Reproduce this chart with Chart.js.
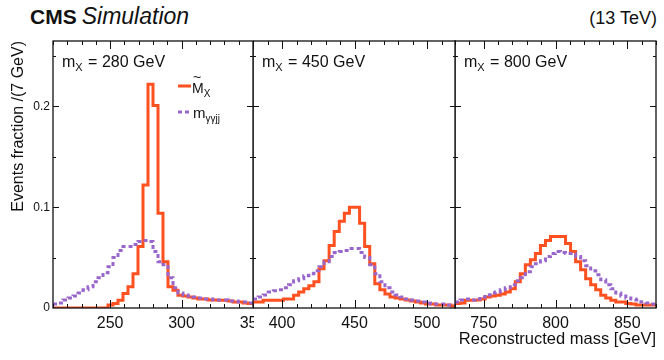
<!DOCTYPE html>
<html>
<head>
<meta charset="utf-8">
<script src="https://cdn.jsdelivr.net/npm/chart.js@4.4.1/dist/chart.umd.min.js"></script>
<style>
  html, body { margin: 0; padding: 0; background: #fff; }
  #wrap { position: relative; width: 664px; height: 360px; overflow: hidden;
          font-family: "Liberation Sans", Arial, sans-serif; color: #111; }
  .pane { position: absolute; top: 0; }
  .hdr { position: absolute; top: 8px; font-size: 18px; line-height: 20px; white-space: nowrap; }
</style>
</head>
<body>
<div id="wrap">
  <div class="hdr" style="left:30px;top:6px"><b style="font-size:21px">CMS</b> <i style="font-size:23px">Simulation</i></div>
  <div class="hdr" style="right:7px">(13 TeV)</div>
  <canvas class="pane" id="c1" width="254" height="360" style="left:0"></canvas>
  <canvas class="pane" id="c2" width="203" height="360" style="left:253px"></canvas>
  <canvas class="pane" id="c3" width="224" height="360" style="left:440px"></canvas>
</div>
<script>
// 3.5 GeV bins, 40 per panel
const binWidth = 3.5;

const massPoints = ['280', '450', '800'];
const binLow = [210, 380, 730];
const xTicks = [[250, 300, 350], [400, 450, 500], [750, 800, 850]];
const yTicks = [0, 0.1, 0.2];

// M~_X (orange)
const mtilde280 = [0, 0, 0, 0, 0, 0, 0, 0, 0, 0,
  0, 0.003, 0.0044, 0.0077, 0.0143, 0.021, 0.034, 0.061, 0.122, 0.222,
  0.201, 0.094, 0.046, 0.021, 0.0176, 0.0126, 0.012, 0.011, 0.010, 0.009,
  0.009, 0.008, 0.008, 0.0077, 0.0077, 0.007, 0.006, 0.006, 0.005, 0.0045];
const mtilde450 = [0.006, 0.006, 0.0077, 0.0077, 0.0077, 0.0077, 0.009, 0.009, 0.0126, 0.016,
  0.019, 0.022, 0.026, 0.039, 0.047, 0.062, 0.076, 0.086, 0.094, 0.100,
  0.100, 0.084, 0.061, 0.044, 0.024, 0.018, 0.014, 0.011, 0.010, 0.009,
  0.008, 0.007, 0.006, 0.005, 0.004, 0.004, 0.003, 0.003, 0.003, 0.002];
const mtilde800 = [0.0044, 0.005, 0.0077, 0.0077, 0.008, 0.009, 0.011, 0.012, 0.0126, 0.014,
  0.016, 0.019, 0.026, 0.034, 0.043, 0.048, 0.054, 0.062, 0.067, 0.071,
  0.071, 0.071, 0.064, 0.056, 0.046, 0.038, 0.029, 0.023, 0.018, 0.0126,
  0.010, 0.0077, 0.006, 0.006, 0.0044, 0.004, 0.003, 0.003, 0.003, 0.003];

// m_γγjj (purple)
const mggjj280 = [0.004, 0.005, 0.008, 0.010, 0.012, 0.015, 0.018, 0.021, 0.026, 0.030,
  0.035, 0.041, 0.050, 0.057, 0.061, 0.061, 0.063, 0.066, 0.067, 0.066,
  0.056, 0.046, 0.043, 0.030, 0.020, 0.015, 0.013, 0.012, 0.011, 0.010,
  0.009, 0.009, 0.008, 0.008, 0.008, 0.007, 0.007, 0.006, 0.006, 0.005];
const mggjj450 = [0.009, 0.011, 0.013, 0.016, 0.017, 0.018, 0.020, 0.023, 0.027, 0.029,
  0.032, 0.034, 0.037, 0.041, 0.046, 0.051, 0.055, 0.056, 0.057, 0.059,
  0.059, 0.055, 0.050, 0.043, 0.034, 0.026, 0.020, 0.016, 0.013, 0.011,
  0.009, 0.008, 0.007, 0.006, 0.005, 0.004, 0.004, 0.004, 0.003, 0.003];
const mggjj800 = [0.006, 0.008, 0.009, 0.008, 0.009, 0.011, 0.013, 0.015, 0.016, 0.018,
  0.020, 0.023, 0.027, 0.030, 0.036, 0.041, 0.044, 0.047, 0.051, 0.054,
  0.056, 0.055, 0.054, 0.054, 0.051, 0.047, 0.042, 0.037, 0.033, 0.028,
  0.023, 0.019, 0.015, 0.012, 0.010, 0.009, 0.008, 0.006, 0.005, 0.004];

const ORANGE = '#ff5020';
const PURPLE = '#9966cc';
const FONT = '"Liberation Sans", Arial, sans-serif';

// points at bin low edges, plus the upper edge of the last bin
function histPoints(low, values) {
  const pts = values.map((v, i) => ({ x: low + i * binWidth, y: v }));
  pts.push({ x: low + values.length * binWidth, y: values[values.length - 1] });
  return pts;
}

// ROOT style frame with inward ticks on all four sides
const frameTicks = {
  id: 'frameTicks',
  afterDatasetsDraw(chart) {
    const { ctx, chartArea: a, scales: { x, y } } = chart;
    ctx.save();
    ctx.strokeStyle = '#111';
    ctx.lineWidth = 1;
    ctx.beginPath();
    const seg = (x0, y0, x1, y1) => { ctx.moveTo(x0, y0); ctx.lineTo(x1, y1); };
    for (let v = Math.ceil(x.min / 10) * 10; v <= x.max; v += 10) {
      const px = Math.round(x.getPixelForValue(v)) + 0.5;
      const len = v % 50 === 0 ? 8 : 4;
      seg(px, a.bottom, px, a.bottom - len);
      seg(px, a.top, px, a.top + len);
    }
    for (let k = 1; k * 0.05 < y.max; k++) {
      const py = Math.round(y.getPixelForValue(k * 0.05)) + 0.5;
      const len = k % 2 === 0 ? 6 : 3;
      seg(a.left, py, a.left + len, py);
      seg(a.right, py, a.right - len, py);
    }
    ctx.stroke();
    ctx.lineWidth = 1.3;
    ctx.strokeRect(a.left, a.top, a.right - a.left, a.bottom - a.top);
    ctx.restore();
  }
};

function subText(ctx, x, yb, main, sub, size) {
  ctx.font = size + 'px ' + FONT;
  ctx.fillText(main, x, yb);
  x += ctx.measureText(main).width;
  ctx.font = Math.round(size * 0.68) + 'px ' + FONT;
  ctx.fillText(sub, x, yb + 4);
  return x + ctx.measureText(sub).width;
}

const annot = {
  id: 'annot',
  afterDraw(chart, args, o) {
    const { ctx, chartArea: a } = chart;
    ctx.save();
    ctx.fillStyle = '#111';
    ctx.textBaseline = 'alphabetic';
    let x = subText(ctx, a.left + 9, a.top + 26, 'm', 'X', 16);
    ctx.font = '16px ' + FONT;
    ctx.fillText(' = ' + o.mass + ' GeV', x + 1, a.top + 26);
    if (o.legend) {
      ctx.lineWidth = 3;
      ctx.strokeStyle = ORANGE;
      ctx.beginPath(); ctx.moveTo(178, 86); ctx.lineTo(191, 86); ctx.stroke();
      ctx.strokeStyle = PURPLE;
      ctx.setLineDash([4, 3]);
      ctx.beginPath(); ctx.moveTo(178, 112); ctx.lineTo(191, 112); ctx.stroke();
      ctx.setLineDash([]);
      subText(ctx, 192, 93, 'M', 'X', 14);
      ctx.font = '14px ' + FONT;
      ctx.fillText('~', 193, 82);
      subText(ctx, 193, 118, 'm', 'γγjj', 15);
    }
    ctx.restore();
  }
};

function makePanel(id, idx, seriesA, seriesB, pad, first, last) {
  new Chart(document.getElementById(id), {
    type: 'line',
    data: {
      datasets: [
        { label: 'M~X', data: histPoints(binLow[idx], seriesA), borderColor: ORANGE,
          borderWidth: 3, stepped: 'before', pointRadius: 0, order: 2 },
        { label: 'mγγjj', data: histPoints(binLow[idx], seriesB), borderColor: PURPLE,
          borderWidth: 3, borderDash: [4, 3], stepped: 'before', pointRadius: 0, order: 1 },
      ],
    },
    options: {
      responsive: false,
      animation: false,
      layout: { padding: pad },
      plugins: {
        legend: { display: false },
        tooltip: { enabled: false },
        annot: { mass: massPoints[idx], legend: first },
      },
      scales: {
        x: {
          type: 'linear',
          min: binLow[idx],
          max: binLow[idx] + 40 * binWidth,
          grid: { display: false, drawTicks: false },
          border: { display: false },
          afterBuildTicks: s => { s.ticks = xTicks[idx].map(v => ({ value: v })); },
          afterFit: s => { s.height = 52; s.paddingLeft = 0; s.paddingRight = 0; },
          ticks: { color: '#111', font: { family: FONT, size: 16 }, padding: 6,
                   maxRotation: 0, autoSkip: false },
          title: { display: last, text: 'Reconstructed mass [GeV]', align: 'end', color: '#111',
                   font: { family: FONT, size: 16.5 }, padding: { top: 0, bottom: 11 } },
        },
        y: {
          display: first,
          min: 0,
          max: 0.265,
          grid: { display: false, drawTicks: false },
          border: { display: false },
          afterBuildTicks: s => { s.ticks = yTicks.map(v => ({ value: v })); },
          afterFit: s => {
            s.width = first ? 53 : 0;
            s.paddingTop = 0; s.paddingBottom = 0;
          },
          ticks: { color: '#111', font: { family: FONT, size: 12 }, padding: 3,
                   callback: v => String(v) },
          title: { display: true, text: 'Events fraction /(7 GeV)', align: 'end', color: '#111',
                   font: { family: FONT, size: 16 }, padding: { top: 9, bottom: 0 } },
        },
      },
    },
    plugins: [frameTicks, annot],
  });
}

makePanel('c1', 0, mtilde280, mggjj280, { top: 41, right: 1, left: 0, bottom: 0 }, true, false);
makePanel('c2', 1, mtilde450, mggjj450, { top: 41, right: 0, left: 0, bottom: 0 }, false, false);
makePanel('c3', 2, mtilde800, mggjj800, { top: 41, right: 8, left: 15, bottom: 0 }, false, true);
</script>
</body>
</html>
